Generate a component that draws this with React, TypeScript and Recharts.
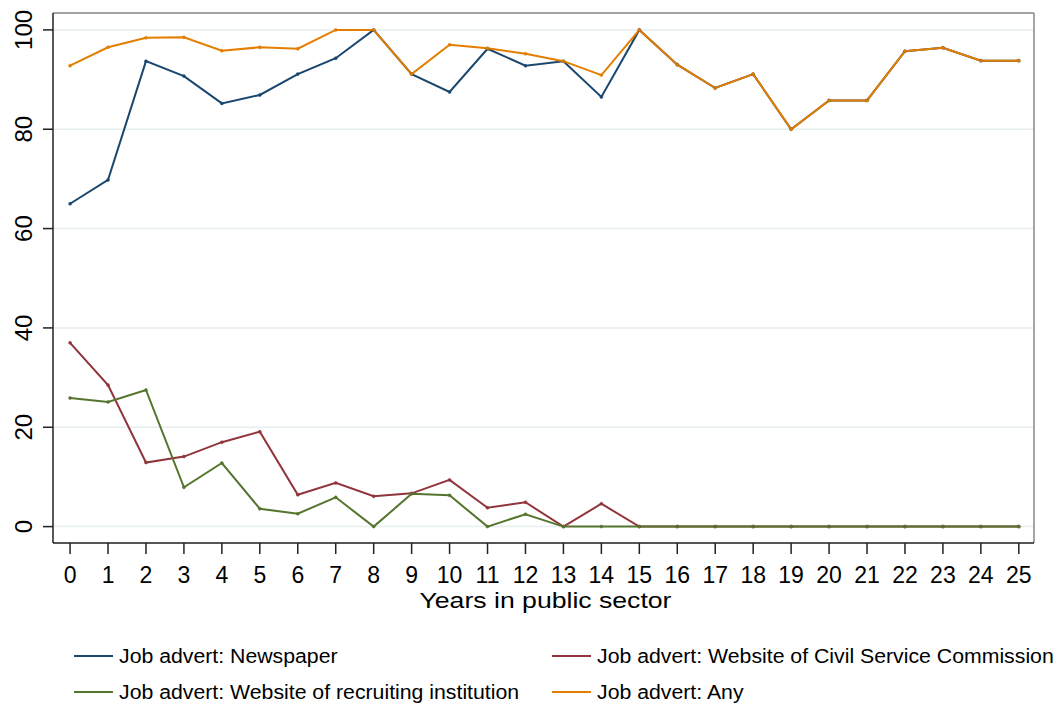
import React from "react";
import {
  LineChart,
  Line,
  XAxis,
  YAxis,
  CartesianGrid,
  Legend,
  ReferenceLine,
  Label,
} from "recharts";

const years = [0, 1, 2, 3, 4, 5, 6, 7, 8, 9, 10, 11, 12, 13, 14, 15, 16, 17, 18, 19, 20, 21, 22, 23, 24, 25];
const newspaper = [65.0, 69.8, 93.7, 90.7, 85.2, 86.9, 91.1, 94.3, 100, 91.1, 87.5, 96.2, 92.8, 93.7, 86.5, 100, 93.0, 88.3, 91.1, 80.0, 85.8, 85.8, 95.7, 96.4, 93.8, 93.8];
const civilService = [37.0, 28.5, 12.9, 14.1, 17.0, 19.1, 6.4, 8.8, 6.1, 6.7, 9.4, 3.8, 4.9, 0, 4.6, 0, 0, 0, 0, 0, 0, 0, 0, 0, 0, 0];
const recruiting = [25.9, 25.1, 27.5, 7.9, 12.8, 3.6, 2.6, 5.9, 0, 6.6, 6.3, 0, 2.5, 0, 0, 0, 0, 0, 0, 0, 0, 0, 0, 0, 0, 0];
const anyAdvert = [92.8, 96.5, 98.4, 98.5, 95.8, 96.5, 96.2, 100, 100, 91.1, 97.0, 96.3, 95.2, 93.7, 90.9, 100, 93.0, 88.3, 91.1, 80.0, 85.8, 85.8, 95.7, 96.4, 93.8, 93.8];
const yTicks = [0, 20, 40, 60, 80, 100];
const xTitle = "Years in public sector";

const seriesNames = [
  "Job advert: Newspaper",
  "Job advert: Website of Civil Service Commission",
  "Job advert: Website of recruiting institution",
  "Job advert: Any",
];
const colors = ["#1a476f", "#90353b", "#55752f", "#e37e00"];

const data = years.map((y, i) => ({
  year: y,
  newspaper: newspaper[i],
  civilService: civilService[i],
  recruiting: recruiting[i],
  anyAdvert: anyAdvert[i],
}));

const FONT = "'Liberation Sans', Arial, Helvetica, sans-serif";
const Y_MIN = -3.3;
const Y_MAX = 103.4;
const X_MIN = -0.45;
const X_MAX = 25.4;

const YTick = (props: any) => {
  const { x, y, payload } = props;
  const bx = x - 9;
  return (
    <text
      x={bx}
      y={y}
      transform={`rotate(-90, ${bx}, ${y})`}
      textAnchor="middle"
      fontSize={24}
      fontFamily={FONT}
      fill="#000"
    >
      {payload.value}
    </text>
  );
};

const XTitle = (props: any) => {
  const vb = props.viewBox || {};
  const cx = vb.x + vb.width / 2 + 2;
  const by = vb.y + 65;
  return (
    <text
      x={cx}
      y={by}
      textAnchor="middle"
      fontSize={22}
      fontFamily={FONT}
      fill="#000"
      textLength={252}
      lengthAdjust="spacingAndGlyphs"
    >
      {xTitle}
    </text>
  );
};

const LegendContent = () => {
  const items = [
    { name: seriesNames[0], color: colors[0], left: 74, top: 24 },
    { name: seriesNames[1], color: colors[1], left: 552, top: 24 },
    { name: seriesNames[2], color: colors[2], left: 74, top: 60 },
    { name: seriesNames[3], color: colors[3], left: 552, top: 60 },
  ];
  return (
    <div style={{ position: "relative", width: 1058, height: 72, fontFamily: FONT }}>
      {items.map((it) => (
        <div
          key={it.name}
          style={{
            position: "absolute",
            left: it.left,
            top: it.top - 13,
            height: 26,
            display: "flex",
            alignItems: "center",
            whiteSpace: "nowrap",
          }}
        >
          <div style={{ width: 39, height: 2, background: it.color, marginRight: 6 }} />
          <span
            style={{
              fontSize: 19.5,
              color: "#000",
              display: "inline-block",
              transform: "scaleX(1.09)",
              transformOrigin: "left center",
            }}
          >
            {it.name}
          </span>
        </div>
      ))}
    </div>
  );
};

export default function App() {
  return (
    <div style={{ position: "absolute", left: 0, top: 0, width: 1058, height: 704, background: "#fff" }}>
      <LineChart
        width={1058}
        height={704}
        data={data}
        margin={{ top: 13, right: 24, left: 0, bottom: 0 }}
      >
        <CartesianGrid vertical={false} stroke="#e6eef0" strokeWidth={1.5} />
        <ReferenceLine y={Y_MAX} stroke="#888" strokeWidth={1.5} ifOverflow="extendDomain" />
        <ReferenceLine x={X_MAX} stroke="#888" strokeWidth={1.5} ifOverflow="extendDomain" />
        <XAxis
          type="number"
          dataKey="year"
          domain={[X_MIN, X_MAX]}
          ticks={years}
          interval={0}
          allowDataOverflow
          height={89}
          tickSize={11}
          tickMargin={13}
          stroke="#222"
          strokeWidth={1.5}
          tick={{ fontSize: 23, fill: "#000", fontFamily: FONT }}
        >
          <Label content={<XTitle />} />
        </XAxis>
        <YAxis
          type="number"
          domain={[Y_MIN, Y_MAX]}
          ticks={yTicks}
          interval={0}
          allowDataOverflow
          width={53}
          tickSize={10}
          tickMargin={2}
          stroke="#222"
          strokeWidth={1.5}
          tick={<YTick />}
        />
        <Legend verticalAlign="bottom" align="left" content={<LegendContent />} />
        <Line
          type="linear"
          dataKey="newspaper"
          name={seriesNames[0]}
          stroke={colors[0]}
          strokeWidth={2}
          dot={{ r: 1.5, fill: colors[0], stroke: colors[0], strokeWidth: 0.5 }}
          isAnimationActive={false}
        />
        <Line
          type="linear"
          dataKey="civilService"
          name={seriesNames[1]}
          stroke={colors[1]}
          strokeWidth={2}
          dot={{ r: 1.5, fill: colors[1], stroke: colors[1], strokeWidth: 0.5 }}
          isAnimationActive={false}
        />
        <Line
          type="linear"
          dataKey="recruiting"
          name={seriesNames[2]}
          stroke={colors[2]}
          strokeWidth={2}
          dot={{ r: 1.5, fill: colors[2], stroke: colors[2], strokeWidth: 0.5 }}
          isAnimationActive={false}
        />
        <Line
          type="linear"
          dataKey="anyAdvert"
          name={seriesNames[3]}
          stroke={colors[3]}
          strokeWidth={2}
          dot={{ r: 1.5, fill: colors[3], stroke: colors[3], strokeWidth: 0.5 }}
          isAnimationActive={false}
        />
      </LineChart>
    </div>
  );
}
